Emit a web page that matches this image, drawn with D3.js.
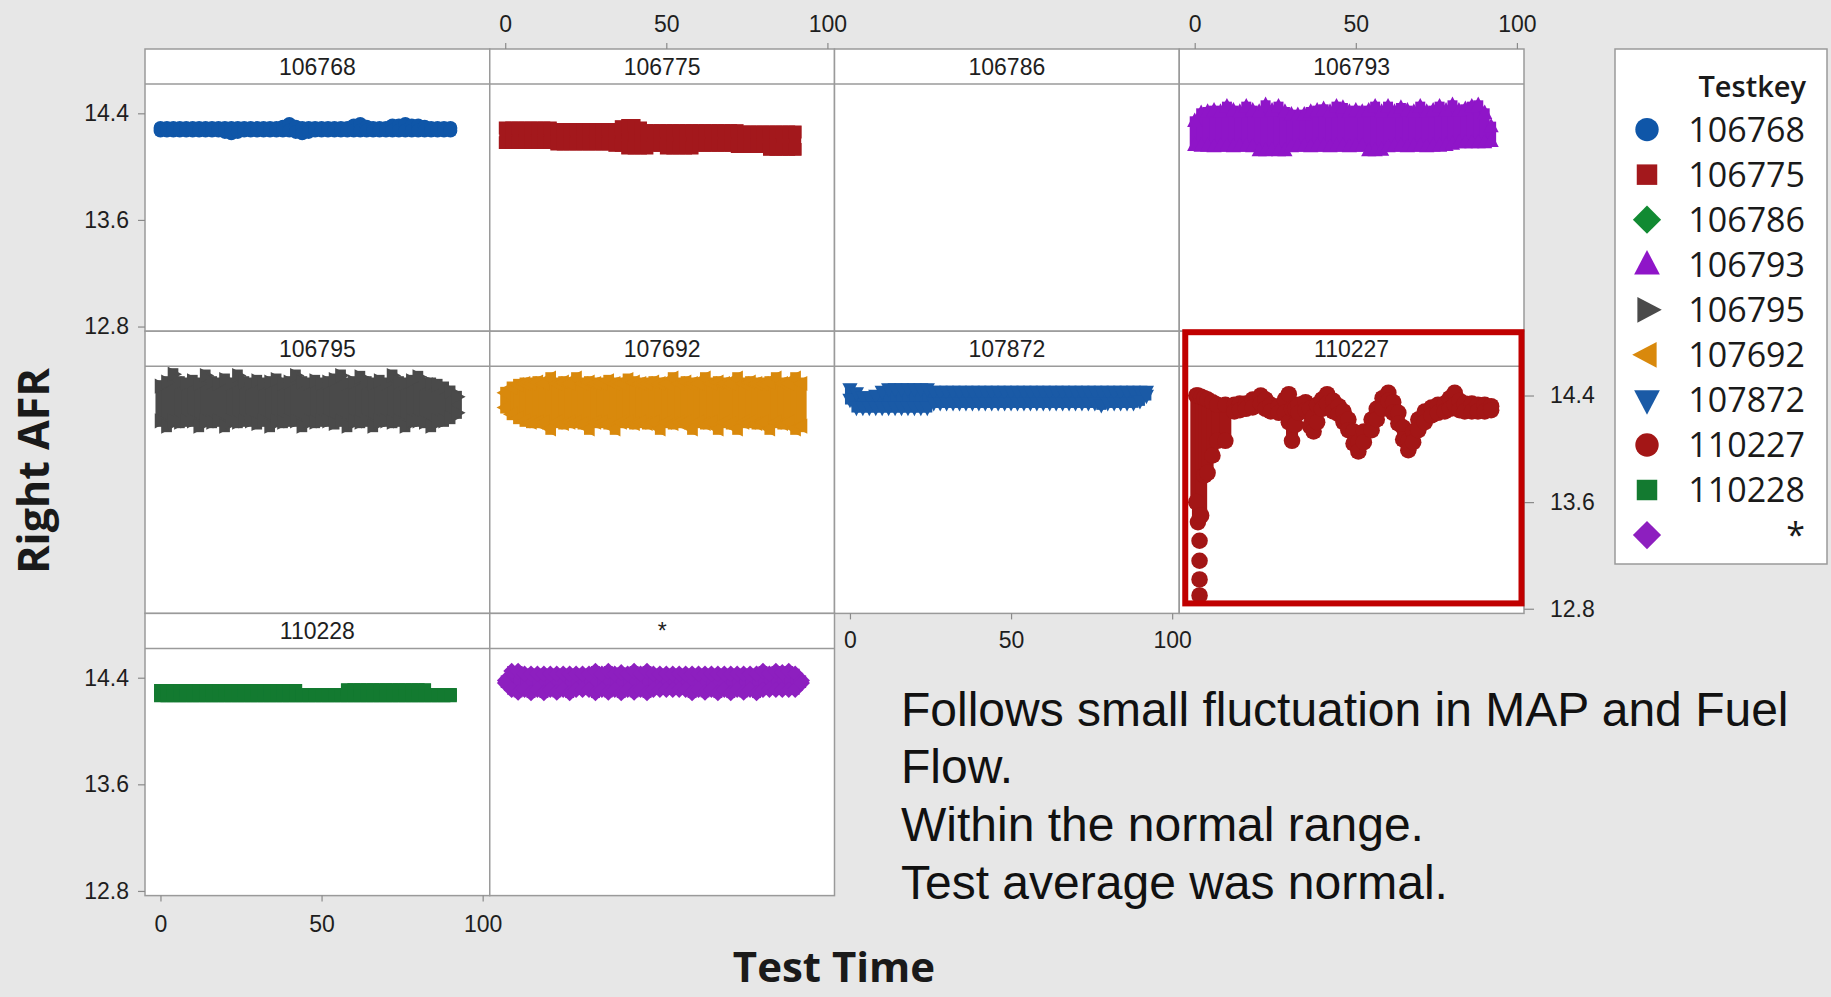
<!DOCTYPE html>
<html>
<head>
<meta charset="utf-8">
<script src="https://cdn.jsdelivr.net/npm/d3@7"></script>
<style>
  html, body { margin: 0; padding: 0; background: #e7e7e7; }
  svg { display: block; }
</style>
</head>
<body>
<svg id="chart" width="1831" height="997"></svg>
<script>
// ---------------- data ----------------
const testkeys   = ["106768", "106775", "106786", "106793", "106795", "107692", "107872", "110227", "110228", "*"];
const keyColors  = ["#0f56a8", "#a3181c", "#118a32", "#8f15c8", "#4a4a4a", "#d9890c", "#1a5aa6", "#a31616", "#137a30", "#8d1fbf"];
const keyShapes  = ["circle", "square", "diamond", "triangleUp", "triangleRight", "triangleLeft", "triangleDown", "circle", "square", "diamond"];
const xTicks = [0, 50, 100];
const yTicks = [12.8, 13.6, 14.4];

// Test Time of each sampled column of the point cloud
const sampleTimes = [0, 2, 4, 6, 8, 10, 12, 14, 16, 18, 20, 22, 24, 26, 28, 30, 32, 34, 36, 38, 40, 42, 44, 46,
                     48, 50, 52, 54, 56, 58, 60, 62, 64, 66, 68, 70, 72, 74, 76, 78, 80, 82, 84, 86, 88, 90, 92];

// Upper / lower extent of Right AFR at each sample time
const hi106768 = [14.29,14.29,14.29,14.29,14.29,14.29,14.29,14.29,14.29,14.29,
                  14.29,14.29,14.29,14.29,14.29,14.29,14.29,14.29,14.29,14.30,
                  14.32,14.30,14.29,14.29,14.29,14.29,14.29,14.29,14.29,14.29,
                  14.31,14.32,14.30,14.29,14.29,14.29,14.31,14.31,14.32,14.31,
                  14.31,14.30,14.29,14.29,14.29,14.29];
const lo106768 = [14.27,14.27,14.27,14.27,14.27,14.27,14.27,14.27,14.27,14.27,
                  14.26,14.25,14.26,14.27,14.27,14.27,14.27,14.27,14.27,14.27,
                  14.27,14.26,14.25,14.26,14.27,14.27,14.27,14.27,14.27,14.27,
                  14.27,14.27,14.27,14.27,14.27,14.27,14.27,14.27,14.27,14.27,
                  14.27,14.27,14.27,14.27,14.27,14.27];

const hi106775 = [14.29,14.29,14.29,14.29,14.29,14.29,14.29,14.29,14.28,14.28,
                  14.28,14.28,14.28,14.28,14.28,14.28,14.28,14.28,14.30,14.31,
                  14.31,14.29,14.27,14.27,14.27,14.27,14.27,14.27,14.27,14.27,
                  14.27,14.27,14.27,14.27,14.27,14.27,14.27,14.26,14.26,14.26,
                  14.26,14.26,14.26,14.26,14.26,14.26];
const lo106775 = [14.18,14.18,14.18,14.18,14.18,14.18,14.18,14.18,14.17,14.17,
                  14.17,14.17,14.17,14.17,14.17,14.17,14.17,14.16,14.16,14.14,
                  14.14,14.14,14.14,14.16,14.16,14.14,14.14,14.14,14.14,14.14,
                  14.16,14.16,14.16,14.16,14.16,14.16,14.15,14.15,14.15,14.15,
                  14.15,14.13,14.13,14.13,14.13,14.13];

const hi106793 = [14.34,14.40,14.41,14.42,14.41,14.45,14.42,14.41,14.45,14.42,
                  14.41,14.46,14.42,14.45,14.41,14.39,14.385,14.39,14.41,14.42,
                  14.43,14.41,14.45,14.44,14.41,14.42,14.41,14.42,14.45,14.41,
                  14.45,14.41,14.44,14.42,14.41,14.45,14.41,14.42,14.45,14.42,
                  14.46,14.42,14.43,14.45,14.46,14.40,14.30];
const lo106793 = [14.16,14.155,14.155,14.15,14.155,14.155,14.15,14.155,14.155,14.15,
                  14.12,14.12,14.125,14.12,14.12,14.15,14.155,14.155,14.15,14.155,
                  14.155,14.15,14.155,14.155,14.15,14.155,14.155,14.12,14.12,14.125,
                  14.15,14.155,14.155,14.15,14.155,14.155,14.15,14.155,14.155,14.16,
                  14.17,14.18,14.18,14.18,14.18,14.18,14.19];

const hi106795 = [14.47,14.50,14.56,14.50,14.49,14.51,14.49,14.55,14.50,14.49,
                  14.52,14.49,14.55,14.50,14.49,14.51,14.49,14.50,14.52,14.49,
                  14.50,14.55,14.50,14.49,14.51,14.49,14.50,14.52,14.55,14.49,
                  14.50,14.54,14.50,14.49,14.51,14.49,14.55,14.50,14.49,14.51,
                  14.54,14.49,14.49,14.48,14.46,14.43,14.39];
const lo106795 = [14.21,14.17,14.21,14.20,14.21,14.21,14.17,14.21,14.20,14.21,
                  14.17,14.21,14.20,14.21,14.21,14.19,14.21,14.17,14.21,14.20,
                  14.21,14.21,14.17,14.21,14.20,14.21,14.21,14.19,14.21,14.17,
                  14.21,14.20,14.21,14.17,14.21,14.21,14.20,14.21,14.17,14.21,
                  14.21,14.20,14.17,14.21,14.21,14.23,14.27];

const hi107692 = [14.42,14.46,14.48,14.49,14.49,14.50,14.49,14.53,14.49,14.50,
                  14.49,14.53,14.49,14.50,14.49,14.49,14.51,14.49,14.49,14.52,
                  14.50,14.49,14.49,14.50,14.49,14.49,14.53,14.49,14.50,14.49,
                  14.49,14.53,14.49,14.50,14.49,14.49,14.53,14.49,14.50,14.49,
                  14.49,14.50,14.53,14.49,14.49,14.53,14.49];
const lo107692 = [14.31,14.26,14.23,14.21,14.20,14.20,14.20,14.15,14.20,14.19,
                  14.20,14.20,14.19,14.15,14.20,14.20,14.19,14.15,14.20,14.20,
                  14.19,14.20,14.19,14.20,14.15,14.20,14.19,14.20,14.20,14.15,
                  14.20,14.19,14.20,14.15,14.20,14.19,14.15,14.20,14.20,14.19,
                  14.20,14.15,14.20,14.19,14.20,14.15,14.17];

const hi107872 = [14.45,14.42,14.39,14.39,14.40,14.43,14.45,14.45,14.45,14.45,
                  14.45,14.45,14.45,14.43,14.43,14.43,14.43,14.43,14.43,14.43,
                  14.43,14.43,14.43,14.43,14.43,14.43,14.43,14.43,14.43,14.43,
                  14.43,14.43,14.43,14.43,14.43,14.43,14.43,14.43,14.43,14.43,
                  14.43,14.43,14.43,14.43,14.43,14.43,14.43];
const lo107872 = [14.37,14.31,14.31,14.31,14.31,14.31,14.31,14.31,14.31,14.31,
                  14.31,14.31,14.31,14.345,14.345,14.345,14.345,14.345,14.345,14.345,
                  14.345,14.345,14.345,14.345,14.345,14.345,14.345,14.345,14.345,14.345,
                  14.345,14.345,14.345,14.345,14.345,14.345,14.345,14.345,14.345,14.33,
                  14.345,14.345,14.345,14.345,14.345,14.36,14.40];

const hi110228 = [14.305,14.305,14.305,14.305,14.305,14.305,14.305,14.305,14.305,14.305,
                  14.305,14.305,14.305,14.305,14.305,14.305,14.305,14.305,14.305,14.305,
                  14.305,14.305,14.275,14.275,14.275,14.275,14.275,14.275,14.275,14.31,
                  14.31,14.31,14.31,14.31,14.31,14.31,14.31,14.31,14.31,14.31,
                  14.31,14.31,14.275,14.275,14.275,14.275];
const lo110228 = [14.265,14.265,14.265,14.265,14.265,14.265,14.265,14.265,14.265,14.265,
                  14.265,14.265,14.265,14.265,14.265,14.265,14.265,14.265,14.265,14.265,
                  14.265,14.265,14.265,14.265,14.265,14.265,14.265,14.265,14.265,14.265,
                  14.265,14.265,14.265,14.265,14.265,14.265,14.265,14.265,14.265,14.265,
                  14.265,14.265,14.265,14.265,14.265,14.265];

const hiStar = [14.38,14.45,14.45,14.43,14.43,14.43,14.43,14.43,14.43,14.43,
                14.43,14.43,14.43,14.43,14.45,14.43,14.45,14.43,14.44,14.43,
                14.45,14.43,14.45,14.43,14.43,14.43,14.43,14.43,14.43,14.43,
                14.43,14.43,14.43,14.43,14.43,14.43,14.43,14.43,14.43,14.43,
                14.45,14.43,14.45,14.44,14.45,14.43,14.38];
const loStar = [14.36,14.31,14.29,14.31,14.285,14.31,14.285,14.31,14.29,14.31,
                14.285,14.31,14.31,14.31,14.285,14.31,14.29,14.31,14.285,14.31,
                14.29,14.31,14.285,14.31,14.31,14.31,14.31,14.31,14.31,14.285,
                14.31,14.29,14.31,14.285,14.31,14.285,14.31,14.29,14.31,14.285,
                14.31,14.31,14.31,14.31,14.31,14.31,14.36];

// Testkey 110227 follows its own time points (start-up transient, then oscillation)
const time110227 = [0.5, 1.0, 2.0, 3.0, 4.0, 5.5, 7.0, 9.5, 12.3, 14.0, 15.9, 18.0, 20.5, 22.0, 23.6, 26.1, 28.0, 29.2,
                    30.2, 31.2, 32.3, 34.4, 35.8, 36.9, 38.0, 39.5, 41.1, 43.0, 44.7, 46.2, 47.7, 49.3,
                    50.8, 52.5, 54.9, 56.5, 58.3, 60.1, 61.6, 63.2, 64.7, 66.3, 67.8, 69.4, 71.4, 73.5,
                    75.5, 77.6, 79.2, 80.7, 82.2, 83.8, 86.0, 87.9, 90.0, 92.0, 1.5, 1.5, 1.5, 1.5];
const hi110227 = [14.40, 14.40, 14.39, 14.38, 14.37, 14.35, 14.33, 14.33, 14.33, 14.34, 14.34, 14.37, 14.40, 14.37, 14.33, 14.32, 14.37, 14.41,
                  14.30, 14.30, 14.33, 14.35, 14.30, 14.24, 14.33, 14.37, 14.41, 14.36, 14.32, 14.28, 14.22, 14.13,
                  14.05, 14.13, 14.22, 14.30, 14.38, 14.42, 14.35, 14.27, 14.16, 14.06, 14.13, 14.22, 14.28, 14.31,
                  14.33, 14.34, 14.38, 14.42, 14.36, 14.34, 14.34, 14.33, 14.33, 14.32, 13.31, 13.16, 13.02, 12.90];
const lo110227 = [13.60, 13.45, 13.50, 13.80, 13.82, 13.95, 14.06, 14.06, 14.28, 14.29, 14.30, 14.31, 14.34, 14.30, 14.28, 14.27, 14.27, 14.20,
                  14.06, 14.18, 14.27, 14.29, 14.17, 14.13, 14.20, 14.30, 14.34, 14.28, 14.26, 14.20, 14.14, 14.04,
                  13.98, 14.05, 14.14, 14.22, 14.30, 14.36, 14.27, 14.19, 14.07, 13.99, 14.05, 14.14, 14.20, 14.25,
                  14.27, 14.28, 14.30, 14.33, 14.29, 14.28, 14.28, 14.28, 14.28, 14.29, 13.31, 13.16, 13.02, 12.90];

const noteLines = ["Follows small fluctuation in MAP and Fuel", "Flow.", "Within the normal range.", "Test average was normal."];

// ---------------- series table ----------------
function bandSeries(hi, lo, times) {
  const t = times || sampleTimes.slice(0, hi.length);
  return t.map((tt, i) => ({ t: tt, hi: hi[i], lo: lo[i] }));
}
const seriesByKey = {
  "106768": bandSeries(hi106768, lo106768),
  "106775": bandSeries(hi106775, lo106775),
  "106786": [],
  "106793": bandSeries(hi106793, lo106793),
  "106795": bandSeries(hi106795, lo106795),
  "107692": bandSeries(hi107692, lo107692),
  "107872": bandSeries(hi107872, lo107872),
  "110227": bandSeries(hi110227, lo110227, time110227),
  "110228": bandSeries(hi110228, lo110228),
  "*":      bandSeries(hiStar, loStar)
};

// ---------------- marker shapes ----------------
function triangle(angle) {
  return { draw(ctx, size) {
    const r = Math.sqrt(size) * 0.62;
    const pts = [[0, -r * 1.15], [r, r * 0.75], [-r, r * 0.75]];
    const a = angle * Math.PI / 180, c = Math.cos(a), s = Math.sin(a);
    pts.forEach(([x, y], i) => {
      const X = x * c - y * s, Y = x * s + y * c;
      if (i) ctx.lineTo(X, Y); else ctx.moveTo(X, Y);
    });
    ctx.closePath();
  }};
}
const diamond = { draw(ctx, size) {
  const r = Math.sqrt(size) * 0.68;
  ctx.moveTo(0, -r); ctx.lineTo(r, 0); ctx.lineTo(0, r); ctx.lineTo(-r, 0); ctx.closePath();
}};
const shapeTypes = {
  circle: d3.symbolCircle, square: d3.symbolSquare, diamond: diamond,
  triangleUp: triangle(0), triangleRight: triangle(90), triangleDown: triangle(180), triangleLeft: triangle(-90)
};
// dense clouds: a column of overlapping markers is drawn as a bar of this width, reaching this far past the end markers' centres
const columnWidth = { circle: 10, square: 12, diamond: 9, triangleUp: 10, triangleRight: 10, triangleDown: 10, triangleLeft: 10 };
const columnReach = { circle: 5, square: 6, diamond: 5, triangleUp: 5, triangleRight: 6, triangleDown: 5, triangleLeft: 6 };
// the 110227 trace is drawn with slightly larger dots
const traceMarker = { size: 215, width: 12, reach: 6 };

// ---------------- layout ----------------
const layout = { left: 145, top: 49, colW: 344.75, rowH: 282.2, stripH: 35 };
const xDomain = [-4.8, 102.2];
const yDomain = [12.765, 14.62];
const lineColor = "#9a9a9a";
const tickFont = "'Liberation Sans', Arial, sans-serif";

const svg = d3.select("#chart");
const defs = svg.append("defs");

const panels = testkeys.map((key, i) => {
  const row = Math.floor(i / 4), col = i % 4;
  const x0 = layout.left + col * layout.colW;
  const y0 = layout.top + row * layout.rowH;
  const box = { x0, x1: x0 + layout.colW, y0, ys: y0 + layout.stripH, y1: y0 + layout.rowH };
  return {
    key, i, row, col, box,
    x: d3.scaleLinear().domain(xDomain).range([box.x0, box.x1]),
    y: d3.scaleLinear().domain(yDomain).range([box.y1, box.ys])
  };
});

// panel frames and strip labels
const frames = svg.append("g");
panels.forEach(p => {
  const b = p.box;
  frames.append("rect")
    .attr("x", b.x0).attr("y", b.y0).attr("width", layout.colW).attr("height", layout.rowH)
    .attr("fill", "#ffffff").attr("stroke", lineColor).attr("stroke-width", 1.5);
  frames.append("line")
    .attr("x1", b.x0).attr("x2", b.x1).attr("y1", b.ys).attr("y2", b.ys)
    .attr("stroke", lineColor).attr("stroke-width", 1.5);
  frames.append("text")
    .attr("x", (b.x0 + b.x1) / 2).attr("y", b.y0 + 26)
    .attr("text-anchor", "middle")
    .attr("font-family", tickFont).attr("font-size", 23).attr("fill", "#1e1e1e")
    .text(p.key);
  defs.append("clipPath").attr("id", "clip" + p.i)
    .append("rect").attr("x", b.x0 + 0.75).attr("y", b.ys + 0.75)
    .attr("width", layout.colW - 1.5).attr("height", b.y1 - b.ys - 1.5);
});

// point clouds
const marks = svg.append("g");
panels.forEach(p => {
  const data = seriesByKey[p.key];
  if (!data.length) return;
  const k = testkeys.indexOf(p.key);
  const color = keyColors[k], shape = keyShapes[k];
  const isTrace = p.key === "110227";
  const bw = isTrace ? traceMarker.width : columnWidth[shape];
  const reach = isTrace ? traceMarker.reach : columnReach[shape];
  const g = marks.append("g").attr("clip-path", `url(#clip${p.i})`);
  const columns = data.filter(d => d.hi !== d.lo);
  g.selectAll("rect").data(columns).join("rect")
    .attr("x", d => p.x(d.t) - bw / 2).attr("width", bw)
    .attr("y", d => p.y(d.hi) - reach).attr("height", d => p.y(d.lo) - p.y(d.hi) + 2 * reach)
    .attr("fill", color);
  const pts = data.flatMap(d => d.hi === d.lo ? [{ t: d.t, v: d.hi }] : [{ t: d.t, v: d.hi }, { t: d.t, v: d.lo }]);
  const size = isTrace ? traceMarker.size : (shape === "square" ? 165 : 150);
  const sym = d3.symbol().type(shapeTypes[shape]).size(size);
  g.selectAll("path").data(pts).join("path")
    .attr("transform", d => `translate(${p.x(d.t)},${p.y(d.v)})`)
    .attr("d", sym).attr("fill", color);
});

// axes
function styleAxis(g) {
  g.select(".domain").remove();
  g.selectAll(".tick line").attr("stroke", "#8a8a8a").attr("stroke-width", 1.2);
  g.selectAll(".tick text").attr("font-family", tickFont).attr("font-size", 23).attr("fill", "#1e1e1e");
}
const axes = svg.append("g");
const fmtY = d3.format(".1f");
panels.forEach(p => {
  const b = p.box;
  if (p.row === 0 && (p.col === 1 || p.col === 3)) {
    axes.append("g").attr("transform", `translate(0,${b.y0})`)
      .call(d3.axisTop(p.x).tickValues(xTicks).tickSize(6).tickPadding(11)).call(styleAxis);
  }
  if ((p.row === 2 && p.col === 0) || (p.row === 1 && p.col === 2)) {
    axes.append("g").attr("transform", `translate(0,${b.y1})`)
      .call(d3.axisBottom(p.x).tickValues(xTicks).tickSize(6).tickPadding(p.row === 2 ? 14 : 12)).call(styleAxis);
  }
  if (p.col === 0 && (p.row === 0 || p.row === 2)) {
    axes.append("g").attr("transform", `translate(${b.x0},0)`)
      .call(d3.axisLeft(p.y).tickValues(yTicks).tickFormat(fmtY).tickSize(7).tickPadding(9)).call(styleAxis);
  }
  if (p.row === 1 && p.col === 3) {
    axes.append("g").attr("transform", `translate(${b.x1},0)`)
      .call(d3.axisRight(p.y).tickValues(yTicks).tickFormat(fmtY).tickSize(10).tickPadding(16)).call(styleAxis);
  }
});

// highlight around Testkey 110227
const hl = panels[testkeys.indexOf("110227")].box;
svg.append("rect")
  .attr("x", hl.x0 + 6).attr("y", hl.y0 + 1)
  .attr("width", layout.colW - 8.5).attr("height", hl.y1 - hl.y0 - 11)
  .attr("fill", "none").attr("stroke", "#c00000").attr("stroke-width", 6);

// axis titles
const titleFont = "'Open Sans', 'Segoe UI', sans-serif";
svg.append("text")
  .attr("transform", "translate(49,471) rotate(-90)")
  .attr("text-anchor", "middle")
  .attr("font-family", titleFont).attr("font-weight", 700).attr("font-size", 43).attr("fill", "#1a1a1a")
  .text("Right AFR");
svg.append("text")
  .attr("x", 834).attr("y", 982)
  .attr("text-anchor", "middle")
  .attr("font-family", titleFont).attr("font-weight", 700).attr("font-size", 42).attr("fill", "#1a1a1a")
  .text("Test Time");

// legend
const legend = svg.append("g");
legend.append("rect")
  .attr("x", 1615).attr("y", 49).attr("width", 212).attr("height", 515)
  .attr("fill", "#ffffff").attr("stroke", lineColor).attr("stroke-width", 1.5);
legend.append("text")
  .attr("x", 1806).attr("y", 97).attr("text-anchor", "end")
  .attr("font-family", titleFont).attr("font-weight", 600).attr("font-size", 29).attr("fill", "#1a1a1a")
  .text("Testkey");
const legendRows = legend.selectAll("g.entry").data(testkeys).join("g")
  .attr("transform", (d, i) => `translate(0,${129.6 + i * 45.05})`);
legendRows.append("path")
  .attr("transform", "translate(1647,0)")
  .attr("d", (d, i) => d3.symbol().type(shapeTypes[keyShapes[i]]).size(keyShapes[i] === "square" ? 420 : 430)())
  .attr("fill", (d, i) => keyColors[i]);
legendRows.append("text")
  .attr("x", 1805).attr("y", 12).attr("text-anchor", "end")
  .attr("font-family", titleFont).attr("font-size", 34).attr("fill", "#1a1a1a")
  .text(d => d);

// note
svg.append("g").selectAll("text").data(noteLines).join("text")
  .attr("x", 901).attr("y", (d, i) => 725.8 + i * 57.6)
  .attr("font-family", "'Liberation Sans', Arial, sans-serif").attr("font-size", 48).attr("fill", "#111111")
  .text(d => d);
</script>
</body>
</html>
